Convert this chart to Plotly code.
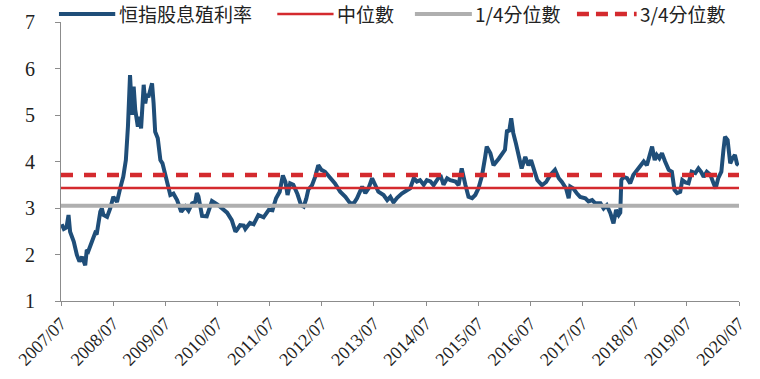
import datetime as dt
import plotly.graph_objects as go

# decimal-year positions and dividend yield (%)
years = [2007.51, 2007.55, 2007.60, 2007.64, 2007.67, 2007.74, 2007.80, 2007.85, 2007.90, 2007.93,
         2007.96, 2007.99, 2008.02, 2008.09, 2008.15, 2008.18, 2008.22, 2008.25, 2008.28, 2008.31,
         2008.38, 2008.44, 2008.50, 2008.57, 2008.63, 2008.69, 2008.74, 2008.78, 2008.82, 2008.86,
         2008.89, 2008.92, 2008.97, 2009.00, 2009.03, 2009.08, 2009.11, 2009.14, 2009.17, 2009.21,
         2009.24, 2009.27, 2009.30, 2009.35, 2009.40, 2009.44, 2009.49, 2009.56, 2009.59, 2009.65,
         2009.72, 2009.80, 2009.85, 2009.88, 2009.94, 2010.01, 2010.07, 2010.10, 2010.13, 2010.20,
         2010.29, 2010.39, 2010.49, 2010.58, 2010.68, 2010.77, 2010.84, 2010.87, 2010.93, 2011.00,
         2011.03, 2011.12, 2011.19, 2011.28, 2011.38, 2011.48, 2011.55, 2011.62, 2011.69, 2011.75,
         2011.80, 2011.84, 2011.89, 2011.95, 2012.03, 2012.10, 2012.15, 2012.20, 2012.24, 2012.31,
         2012.37, 2012.43, 2012.49, 2012.56, 2012.62, 2012.68, 2012.75, 2012.85, 2012.95, 2013.04,
         2013.11, 2013.17, 2013.27, 2013.33, 2013.39, 2013.46, 2013.52, 2013.58, 2013.68, 2013.75,
         2013.81, 2013.87, 2013.94, 2014.03, 2014.13, 2014.19, 2014.26, 2014.32, 2014.38, 2014.45,
         2014.51, 2014.58, 2014.64, 2014.70, 2014.77, 2014.83, 2014.90, 2014.96, 2015.06, 2015.12,
         2015.18, 2015.25, 2015.31, 2015.38, 2015.44, 2015.50, 2015.57, 2015.63, 2015.66, 2015.73,
         2015.79, 2015.89, 2015.95, 2016.01, 2016.05, 2016.09, 2016.13, 2016.17, 2016.22, 2016.27,
         2016.33, 2016.40, 2016.46, 2016.51, 2016.56, 2016.63, 2016.72, 2016.80, 2016.88, 2016.97,
         2017.04, 2017.10, 2017.18, 2017.23, 2017.26, 2017.32, 2017.39, 2017.45, 2017.55, 2017.61,
         2017.68, 2017.74, 2017.84, 2017.90, 2017.96, 2018.03, 2018.09, 2018.14, 2018.19, 2018.22,
         2018.24, 2018.28, 2018.35, 2018.41, 2018.47, 2018.54, 2018.60, 2018.67, 2018.73, 2018.79,
         2018.83, 2018.88, 2018.92, 2018.97, 2019.02, 2019.08, 2019.15, 2019.21, 2019.26, 2019.31,
         2019.37, 2019.41, 2019.47, 2019.53, 2019.59, 2019.66, 2019.72, 2019.77, 2019.82, 2019.88,
         2019.95, 2020.01, 2020.05, 2020.10, 2020.16, 2020.20, 2020.23, 2020.28, 2020.33, 2020.37,
         2020.42, 2020.46, 2020.49]
dividend_yield = [2.65, 2.55, 2.58, 2.85, 2.49, 2.28, 1.99, 1.85, 1.95, 1.88,
                  1.77, 2.10, 2.07, 2.28, 2.46, 2.43, 2.81, 2.92, 2.99, 2.85,
                  2.81, 2.99, 3.24, 3.13, 3.42, 3.67, 4.03, 4.75, 5.86, 5.00,
                  5.61, 5.11, 4.75, 4.96, 4.71, 5.65, 5.25, 5.45, 5.38, 5.61,
                  5.68, 5.25, 4.64, 4.50, 4.03, 3.96, 3.71, 3.39, 3.28, 3.31,
                  3.17, 2.92, 3.00, 3.03, 2.94, 3.10, 3.13, 3.32, 3.25, 2.83,
                  2.82, 3.15, 3.08, 2.99, 2.90, 2.74, 2.49, 2.53, 2.63, 2.62,
                  2.55, 2.68, 2.65, 2.85, 2.80, 2.96, 2.95, 3.21, 3.35, 3.70,
                  3.56, 3.28, 3.53, 3.50, 3.30, 3.06, 3.03, 3.20, 3.40, 3.49,
                  3.67, 3.92, 3.82, 3.78, 3.70, 3.65, 3.53, 3.35, 3.24, 3.10,
                  3.10, 3.21, 3.46, 3.32, 3.42, 3.64, 3.50, 3.35, 3.28, 3.17,
                  3.24, 3.12, 3.22, 3.31, 3.38, 3.42, 3.64, 3.57, 3.60, 3.50,
                  3.60, 3.57, 3.49, 3.60, 3.71, 3.50, 3.64, 3.60, 3.57, 3.49,
                  3.85, 3.50, 3.24, 3.21, 3.28, 3.42, 3.70, 4.10, 4.32, 4.18,
                  3.92, 4.06, 4.14, 4.25, 4.68, 4.64, 4.93, 4.61, 4.39, 4.18,
                  3.85, 4.10, 3.92, 4.03, 3.82, 3.60, 3.49, 3.56, 3.71, 3.82,
                  3.64, 3.56, 3.42, 3.21, 3.46, 3.42, 3.31, 3.24, 3.21, 3.14,
                  3.17, 3.10, 3.10, 2.99, 3.06, 2.89, 2.67, 2.96, 2.85, 2.90,
                  3.60, 3.67, 3.64, 3.53, 3.71, 3.82, 3.92, 4.00, 3.92, 4.18,
                  4.32, 4.03, 4.14, 4.07, 4.18, 4.00, 3.82, 3.78, 3.39, 3.32,
                  3.35, 3.60, 3.55, 3.53, 3.78, 3.75, 3.85, 3.78, 3.67, 3.78,
                  3.71, 3.53, 3.42, 3.64, 3.78, 4.25, 4.53, 4.46, 3.96, 4.06,
                  4.14, 3.95, 3.92]

median_value = 3.43
q1_value = 3.05
q3_value = 3.71

tick_labels = ["2007/07", "2008/07", "2009/07", "2010/07", "2011/07", "2012/07", "2013/07",
               "2014/07", "2015/07", "2016/07", "2017/07", "2018/07", "2019/07", "2020/07"]
series_names = ["恒指股息殖利率", "中位數", "1/4分位數", "3/4分位數"]


def to_date(y):
    yr = int(y)
    return dt.datetime(yr, 1, 1) + dt.timedelta(days=(y - yr) * 365.25)


dates = [to_date(y) for y in years]
tick_dates = [dt.datetime(int(t[:4]), int(t[5:]), 1) for t in tick_labels]
x_start, x_end = tick_dates[0], tick_dates[-1]

BLUE = "#1F4E79"
RED = "#D42A2E"
GRAY = "#AFAFAF"

styles = [dict(color=BLUE, width=4),
          dict(color=RED, width=2.5),
          dict(color=GRAY, width=4),
          dict(color=RED, width=4.5, dash="12px,11px")]

fig = go.Figure()
fig.add_trace(go.Scatter(x=dates, y=dividend_yield, mode="lines", name=series_names[0],
                         line=styles[0]))
fig.add_trace(go.Scatter(x=[x_start, x_end], y=[median_value] * 2, mode="lines",
                         name=series_names[1], line=styles[1]))
fig.add_trace(go.Scatter(x=[x_start, x_end], y=[q1_value] * 2, mode="lines",
                         name=series_names[2], line=styles[2]))
fig.add_trace(go.Scatter(x=[x_start, x_end], y=[q3_value] * 2, mode="lines",
                         name=series_names[3], line=styles[3]))

# custom legend (longer line samples, as in the original)
legend_x = [-0.003, 0.319, 0.522, 0.761]   # left edge of each sample, paper coords
sample_w = [0.083, 0.083, 0.084, 0.088]
legend_y = 1.029
for i, name in enumerate(series_names):
    st = styles[i]
    fig.add_shape(type="line", xref="paper", yref="paper",
                  x0=legend_x[i], x1=legend_x[i] + sample_w[i], y0=legend_y, y1=legend_y,
                  line=dict(color=st["color"], width=st["width"],
                            dash="12px,7px" if "dash" in st else "solid"))
    fig.add_annotation(xref="paper", yref="paper", x=legend_x[i] + sample_w[i] + 0.002,
                       y=legend_y, xanchor="left", yanchor="middle", showarrow=False,
                       text=name, font=dict(family="Noto Sans CJK TC", size=19, color="#222222"))

fig.update_layout(
    width=760, height=379,
    margin=dict(l=61, r=21, t=22, b=78, autoexpand=False),
    paper_bgcolor="white", plot_bgcolor="white",
    showlegend=False,
    xaxis=dict(range=[x_start, x_end], tickmode="array", tickvals=tick_dates,
               ticktext=tick_labels, tickangle=-45, showgrid=False, zeroline=False,
               showline=True, linecolor="#8C8C8C", linewidth=1, ticks="outside",
               ticklen=4, tickcolor="#8C8C8C",
               tickfont=dict(family="Liberation Serif", size=18, color="#222222")),
    yaxis=dict(range=[1, 7], dtick=1, tick0=1, showgrid=False, zeroline=False,
               showline=True, linecolor="#8C8C8C", linewidth=1, ticks="outside",
               ticklen=5, tickcolor="#8C8C8C", ticklabelstandoff=16,
               tickfont=dict(family="Liberation Serif", size=20, color="#222222")),
)

fig.write_html("out.html")
